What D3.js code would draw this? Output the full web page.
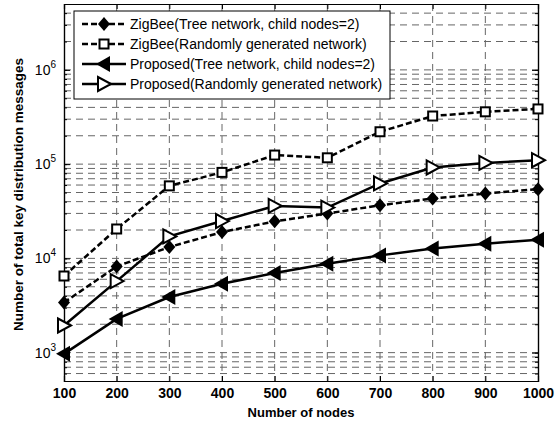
<!DOCTYPE html>
<html>
<head>
<meta charset="utf-8">
<script src="https://cdn.jsdelivr.net/npm/d3@7"></script>
<style>
  body { margin: 0; background: #fff; }
  text { font-family: "Liberation Sans", Arial, sans-serif; }
</style>
</head>
<body>
<script>
const nodes = [100, 200, 300, 400, 500, 600, 700, 800, 900, 1000];
const zigbeeTree = [3400, 8200, 13200, 19000, 24700, 29900, 36600, 43100, 48700, 54200];
const zigbeeRandom = [6500, 20500, 58800, 81700, 124800, 116700, 220600, 324000, 359000, 385000];
const proposedTree = [970, 2280, 3890, 5380, 6980, 8770, 10760, 12700, 14300, 15800];
const proposedRandom = [1940, 5740, 17100, 24900, 36000, 34600, 62400, 92200, 103000, 110000];
const legendLabels = [
  "ZigBee(Tree network, child nodes=2)",
  "ZigBee(Randomly generated network)",
  "Proposed(Tree network, child nodes=2)",
  "Proposed(Randomly generated network)"
];
const yMajor = [1e3, 1e4, 1e5, 1e6];

const w = 559, h = 421;
const p = { t: 4, r: 21, b: 40, l: 64 };
const iw = w - p.l - p.r, ih = h - p.t - p.b;

const svg = d3.select("body").append("svg").attr("width", w).attr("height", h);
const g = svg.append("g").attr("transform", `translate(${p.l},${p.t})`);

const x = d3.scaleLinear().domain([100, 1000]).range([0, iw]);
const y = d3.scaleLog().domain([500, 5e6]).range([ih, 0]);

// minor log values
let minor = [];
for (let e = 2; e <= 6; e++) {
  for (let m = 1; m <= 9; m++) {
    const v = m * Math.pow(10, e);
    if (v >= 500 && v <= 5e6) minor.push(v);
  }
}

// grid
g.selectAll(".hgrid").data(minor.filter(v => v > 500 && v < 5e6)).enter().append("line")
  .attr("x1", 0).attr("x2", iw)
  .attr("y1", d => y(d)).attr("y2", d => y(d))
  .attr("stroke", "#666").attr("stroke-width", 1).attr("stroke-dasharray", "7,5");
g.selectAll(".vgrid").data(nodes.slice(1, -1)).enter().append("line")
  .attr("x1", d => x(d)).attr("x2", d => x(d))
  .attr("y1", 0).attr("y2", ih)
  .attr("stroke", "#666").attr("stroke-width", 1).attr("stroke-dasharray", "7,5");

// axes with inward ticks
const xb = g.append("g").attr("transform", `translate(0,${ih})`)
  .call(d3.axisBottom(x).tickValues(nodes).tickSize(-5).tickPadding(7).tickFormat(d3.format("d")));
g.append("g")
  .call(d3.axisTop(x).tickValues(nodes).tickSize(-5).tickFormat(""));
g.append("g")
  .call(d3.axisLeft(y).tickValues(minor).tickSize(-3).tickFormat(""));
g.append("g").attr("transform", `translate(${iw},0)`)
  .call(d3.axisRight(y).tickValues(minor).tickSize(-3).tickFormat(""));
g.append("g").call(d3.axisLeft(y).tickValues(yMajor).tickSize(-6).tickFormat(""));
g.append("g").attr("transform", `translate(${iw},0)`)
  .call(d3.axisRight(y).tickValues(yMajor).tickSize(-6).tickFormat(""));

g.selectAll(".domain").attr("stroke", "#000").attr("stroke-width", 1.2);
g.selectAll(".tick line").attr("stroke", "#000");
xb.selectAll("text").attr("font-size", 14).attr("font-weight", "bold").attr("fill", "#000");

// y tick labels 10^n
yMajor.forEach(v => {
  const t = g.append("text")
    .attr("x", -8).attr("y", y(v) + 5)
    .attr("text-anchor", "end").attr("font-size", 14).attr("fill", "#000");
  t.append("tspan").text("10");
  t.append("tspan").attr("dy", -7).attr("font-size", 10).text(Math.log10(v));
});

// axis titles
svg.append("text").attr("x", p.l + iw / 2).attr("y", 417)
  .attr("text-anchor", "middle").attr("font-size", 13).attr("font-weight", "bold")
  .text("Number of nodes");
svg.append("text").attr("transform", `translate(23,${p.t + ih / 2 + 2}) rotate(-90)`)
  .attr("text-anchor", "middle").attr("font-size", 13.5).attr("font-weight", "bold")
  .text("Number of total key distribution messages");

const series = [
  { vals: zigbeeTree, dash: "6,3", marker: "diamond" },
  { vals: zigbeeRandom, dash: "6,3", marker: "square" },
  { vals: proposedTree, dash: null, marker: "left" },
  { vals: proposedRandom, dash: null, marker: "right" }
];

function drawMarker(sel, type) {
  if (type === "diamond") {
    sel.append("path").attr("d", "M0,-7L6,0L0,7L-6,0Z").attr("fill", "#000");
  } else if (type === "square") {
    sel.append("rect").attr("x", -4.5).attr("y", -4.5).attr("width", 9).attr("height", 9)
      .attr("fill", "#fff").attr("stroke", "#000").attr("stroke-width", 2);
  } else if (type === "left") {
    sel.append("path").attr("d", "M-8,0L6,-8L6,8Z").attr("fill", "#000");
  } else {
    sel.append("path").attr("d", "M7,0L-6,-7L-6,7Z")
      .attr("fill", "#fff").attr("stroke", "#000").attr("stroke-width", 2);
  }
}

const line = d3.line().x(d => x(d[0])).y(d => y(d[1]));
series.forEach(s => {
  const pts = nodes.map((n, i) => [n, s.vals[i]]);
  g.append("path").datum(pts).attr("d", line)
    .attr("fill", "none").attr("stroke", "#000").attr("stroke-width", 2.5)
    .attr("stroke-dasharray", s.dash);
  pts.forEach(pt => {
    const m = g.append("g").attr("transform", `translate(${x(pt[0])},${y(pt[1])})`);
    drawMarker(m, s.marker);
  });
});

// legend
const lg = svg.append("g");
lg.append("rect").attr("x", 74).attr("y", 11).attr("width", 316).attr("height", 88)
  .attr("fill", "#fff").attr("stroke", "#000").attr("stroke-width", 1);
series.forEach((s, i) => {
  const yy = 24 + i * 20;
  lg.append("line").attr("x1", 82).attr("x2", 126).attr("y1", yy).attr("y2", yy)
    .attr("stroke", "#000").attr("stroke-width", 2.5).attr("stroke-dasharray", s.dash);
  drawMarker(lg.append("g").attr("transform", `translate(104,${yy})`), s.marker);
  lg.append("text").attr("x", 130).attr("y", yy + 5).attr("font-size", 14).attr("fill", "#000")
    .text(legendLabels[i]);
});
</script>
</body>
</html>
